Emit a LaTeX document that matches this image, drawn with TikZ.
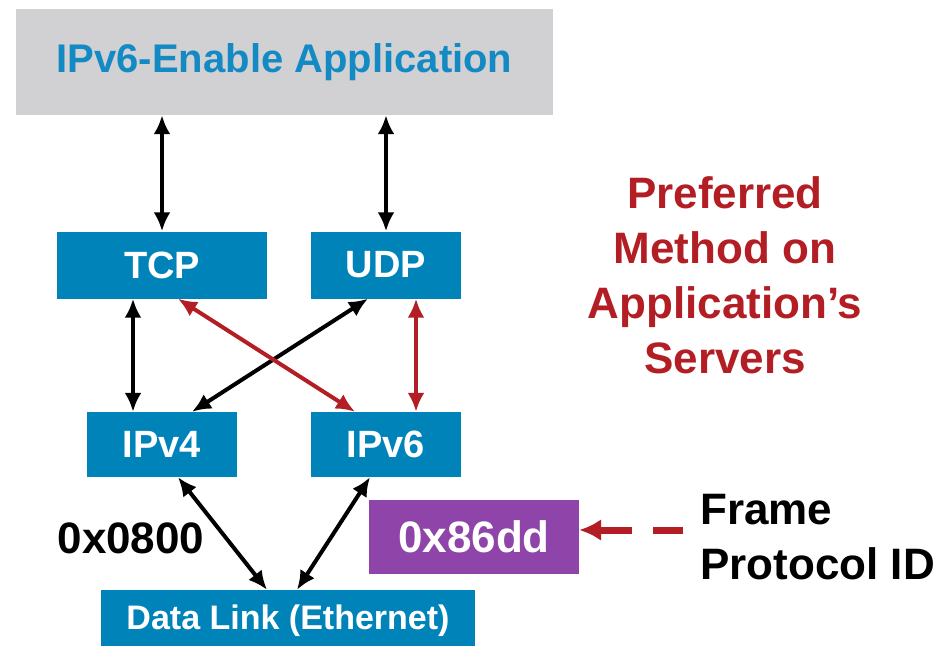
\documentclass[tikz,border=0pt]{standalone}
\usepackage{fontspec}
\setmainfont{Liberation Sans}
\usepackage{tikz}
\usetikzlibrary{arrows.meta}
\definecolor{boxblue}{RGB}{0,131,185}
\definecolor{titleblue}{RGB}{20,138,196}
\definecolor{appgray}{RGB}{209,209,212}
\definecolor{prefred}{RGB}{178,30,36}
\definecolor{idpurple}{RGB}{142,68,168}
\newcommand\bigfont{\fontsize{44}{55}\selectfont\bfseries}
\tikzset{
  both/.style={{Latex[length=19pt,width=17pt]}-{Latex[length=19pt,width=17pt]},line width=4pt},
  frameid/.style={-{Latex[length=22pt,width=22pt]},line width=7pt,prefred}
}

\begin{document}
\begin{tikzpicture}[x=1pt,y=-1pt]%
        \useasboundingbox (0,0) rectangle (944,645);%%
        \node[fill=appgray,minimum width=537pt,minimum height=106pt,text=titleblue,
              font=\fontsize{40}{48}\selectfont\bfseries] (app) at (284.5,62) {IPv6-Enable Application}; %%
        \begin{scope}
        \tikzstyle{every node}=[fill=boxblue,text=white,inner sep=0pt,font=\fontsize{38}{46}\selectfont\bfseries] %%
        \node[minimum width=210pt,minimum height=67pt] (tcp) at (162,265)  {TCP}; %%
        \node[minimum width=150pt,minimum height=67pt] (udp) at (386,265)  {UDP}; %%
        \node[minimum width=150pt,minimum height=65pt] (ipv4) at (162,444.5)  {IPv4}; %%
        \node[minimum width=150pt,minimum height=65pt] (ipv6) at (386,444.5)  {IPv6}; %%
        \node[minimum width=374pt,minimum height=62pt,font=\fontsize{34}{40}\selectfont\bfseries] (dl) at (288,621)  {Data Link (Ethernet)}; %%
        \node[fill=idpurple,minimum width=210pt,minimum height=74pt,font=\bigfont] (id) at (474,536.5)  {0x86dd}; %%
        \end{scope}
        \node[text=prefred,align=center,font=\bigfont] (pref) at (725,275) {Preferred\\Method on\\Application’s\\Servers}; %%
        \node[font=\bigfont] (ip4id) at (131,538) {0x0800}; %%
        \node[anchor=west,align=left,inner sep=0pt,font=\bigfont] (frame) at (700,537.5) {Frame\\Protocol ID}; %%
        \coordinate (dashend) at (683,530); %%
        \draw[both] (tcp.north) -- (tcp.north |- app.south);  %%
        \draw[both] (udp.north) -- (udp.north |- app.south);  %%
        \draw[both] ([xshift=-29pt]ipv4.north) -- ([xshift=-29pt]ipv4.north |- tcp.south);  %%
        \draw[both] ([xshift=-18pt]udp.south) -- ([xshift=30pt]ipv4.north);  %%
        \draw[both,prefred] ([xshift=16pt]tcp.south) -- ([xshift=-31pt]ipv6.north);  %%
        \draw[both,prefred] ([xshift=30pt]udp.south) -- ([xshift=30pt]ipv6.north);  %%
        \draw[both] ([xshift=16pt]ipv4.south) -- ([xshift=-21pt]dl.north);  %%
        \draw[both] ([xshift=-16pt]ipv6.south) -- ([xshift=9pt]dl.north);  %%
        \draw[frameid,dash pattern=on 30pt off 21pt on 40pt off 0pt] (dashend) -- (dashend -| id.east); %%
        \end{tikzpicture}
\end{document}
